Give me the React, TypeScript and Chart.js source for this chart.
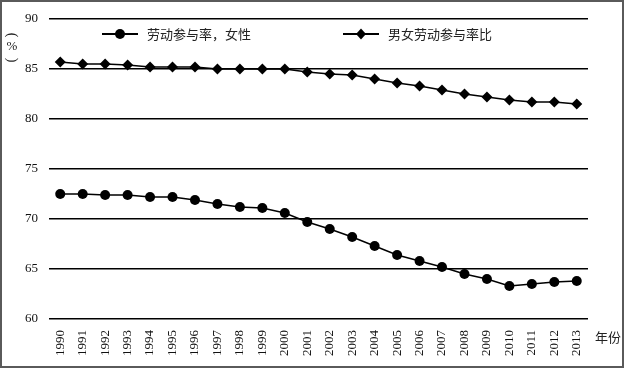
import React, { useEffect, useRef } from "react";
import { Chart, registerables } from "chart.js";

Chart.register(...registerables);

const years = [
  "1990", "1991", "1992", "1993", "1994", "1995", "1996", "1997", "1998", "1999", "2000", "2001",
  "2002", "2003", "2004", "2005", "2006", "2007", "2008", "2009", "2010", "2011", "2012", "2013",
];
const femaleRate = [
  72.5, 72.5, 72.4, 72.4, 72.2, 72.2, 71.9, 71.5, 71.2, 71.1, 70.6, 69.7,
  69.0, 68.2, 67.3, 66.4, 65.8, 65.2, 64.5, 64.0, 63.3, 63.5, 63.7, 63.8,
];
const ratio = [
  85.7, 85.5, 85.5, 85.4, 85.2, 85.2, 85.2, 85.0, 85.0, 85.0, 85.0, 84.7,
  84.5, 84.4, 84.0, 83.6, 83.3, 82.9, 82.5, 82.2, 81.9, 81.7, 81.7, 81.5,
];
const seriesLabels = ["劳动参与率，女性", "男女劳动参与率比"];
const yTitle = ["(", "%", ")"];
const xTitle = "年份";

const SERIF = "'Liberation Serif', 'Times New Roman', serif";
const CJK = "'Noto Sans CJK SC', sans-serif";

const decorPlugin = {
  id: "decor",
  beforeDraw(chart: any) {
    const ctx = chart.ctx;
    ctx.save();
    ctx.fillStyle = "#fff";
    ctx.fillRect(0, 0, chart.width, chart.height);
    ctx.restore();
  },
  afterDraw(chart: any) {
    const ctx = chart.ctx;
    const area = chart.chartArea;
    ctx.save();
    // frame
    ctx.strokeStyle = "#5a5a5a";
    ctx.lineWidth = 2;
    ctx.strokeRect(1, 1, chart.width - 2, chart.height - 2);

    // legend
    const ly = area.top + 15;
    const items = [
      { x: 102, style: "circle" },
      { x: 343, style: "rectRot" },
    ];
    chart.data.datasets.forEach((ds: any, i: number) => {
      const it = items[i];
      ctx.strokeStyle = "#000";
      ctx.lineWidth = 2;
      ctx.beginPath();
      ctx.moveTo(it.x, ly);
      ctx.lineTo(it.x + 36, ly);
      ctx.stroke();
      ctx.fillStyle = "#000";
      ctx.beginPath();
      const cx = it.x + 18;
      if (it.style === "circle") {
        ctx.arc(cx, ly, 5, 0, Math.PI * 2);
      } else {
        ctx.moveTo(cx, ly - 5.5);
        ctx.lineTo(cx + 5, ly);
        ctx.lineTo(cx, ly + 5.5);
        ctx.lineTo(cx - 5, ly);
        ctx.closePath();
      }
      ctx.fill();
      ctx.font = "13px " + CJK;
      ctx.textBaseline = "middle";
      ctx.textAlign = "left";
      ctx.fillStyle = "#222";
      ctx.fillText(ds.label, it.x + 45, ly);
    });

    // y title (vertical): rotated parentheses with upright %
    ctx.fillStyle = "#222";
    ctx.textAlign = "center";
    ctx.textBaseline = "middle";
    ctx.font = "14px " + SERIF;
    ctx.save();
    ctx.translate(12, 35);
    ctx.rotate(Math.PI / 2);
    ctx.fillText(yTitle[0], 0, 0);
    ctx.restore();
    ctx.font = "13px " + SERIF;
    ctx.fillText(yTitle[1], 12, 47);
    ctx.font = "14px " + SERIF;
    ctx.save();
    ctx.translate(12, 60);
    ctx.rotate(Math.PI / 2);
    ctx.fillText(yTitle[2], 0, 0);
    ctx.restore();

    // x title
    ctx.font = "13px " + CJK;
    ctx.textAlign = "left";
    ctx.fillText(xTitle, 595, 337);
    ctx.restore();
  },
};

export default function App() {
  const ref = useRef<HTMLCanvasElement>(null);
  useEffect(() => {
    document.body.style.margin = "0";
    const chart = new Chart(ref.current!, {
      type: "line",
      data: {
        labels: years,
        datasets: [
          {
            label: seriesLabels[0],
            data: femaleRate,
            borderColor: "#000",
            backgroundColor: "#000",
            borderWidth: 1.5,
            pointStyle: "circle",
            pointRadius: 5,
            pointBorderWidth: 0,
            tension: 0,
          },
          {
            label: seriesLabels[1],
            data: ratio,
            borderColor: "#000",
            backgroundColor: "#000",
            borderWidth: 1.5,
            pointStyle: "rectRot",
            pointRadius: 5.5,
            pointBorderWidth: 0,
            tension: 0,
          },
        ],
      },
      options: {
        animation: false,
        responsive: false,
        maintainAspectRatio: false,
        layout: { padding: { top: 19, right: 36, left: 0, bottom: 0 } },
        plugins: {
          legend: { display: false },
          tooltip: { enabled: false },
        },
        scales: {
          x: {
            offset: true,
            grid: { display: false, drawTicks: false },
            border: { display: false },
            ticks: {
              minRotation: 90,
              maxRotation: 90,
              autoSkip: false,
              padding: 11,
              color: "#111",
              font: { family: SERIF, size: 13 },
            },
            afterFit: (s: any) => {
              s.height = 49;
            },
          },
          y: {
            min: 60,
            max: 90,
            grid: { color: "#000", lineWidth: 1.5, drawTicks: false },
            border: { display: false },
            ticks: {
              stepSize: 5,
              padding: 11,
              color: "#111",
              font: { family: SERIF, size: 13 },
            },
            afterFit: (s: any) => {
              s.width = 49;
            },
          },
        },
      },
      plugins: [decorPlugin],
    });
    return () => chart.destroy();
  }, []);
  return <canvas ref={ref} width={624} height={368} style={{ display: "block" }} />;
}
